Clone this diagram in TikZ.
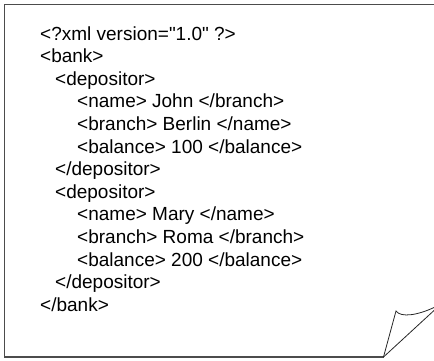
\documentclass[tikz,border=0pt]{standalone}
\usepackage{fontspec}
\setmainfont{Liberation Sans}[Ligatures=TeXOff]
\usepackage{tikz}
\newcommand{\xmlsize}{\fontsize{19}{22.6}\selectfont}
\tikzset{
  sheet/.style  ={draw=black!70, line width=1.5pt},
  crease/.style ={draw=black!85, line width=0.8pt},
  tag/.style    ={anchor=base west, inner sep=0pt, font=\xmlsize},
}

\begin{document}
\begin{tikzpicture}[x=1pt,y=-1pt]
\useasboundingbox (0,0) rectangle (434,360);

% --- the sheet, cut off at the right -------------------------------
\coordinate (tr)   at (434,4.5);
\coordinate (tl)   at (4.5,4.5);
\coordinate (bl)   at (4.5,357);
\coordinate (foot) at (383.5,357);
\coordinate (edge) at (434,310.5);
\coordinate (tip)  at (396,311);
\coordinate (curl) at (434,307.5);
\draw[sheet] (tr) -- (tl) -- (bl) -- (foot);
\draw[crease] (foot) -- (edge);
\draw[crease] (foot) -- (tip) .. controls (401,318) and (418,315) .. (curl);

% --- the document ---------------------------------------------------
\node[tag] (decl)  at (40,40)    {<?xml version="1.0" ?>};
\node[tag] (bank)  at (40,62.6)  {<bank>};
\node[tag] (dep1)  at (55,85.2)  {<depositor>};
\node[tag] (name1) at (77,107.8) {<name> John </branch>};
\node[tag] (br1)   at (77,130.4) {<branch> Berlin </name>};
\node[tag] (bal1)  at (77,153)   {<balance> 100 </balance>};
\node[tag] (end1)  at (55,175.6) {</depositor>};
\node[tag] (dep2)  at (55,198.2) {<depositor>};
\node[tag] (name2) at (77,220.8) {<name> Mary </name>};
\node[tag] (br2)   at (77,243.4) {<branch> Roma </branch>};
\node[tag] (bal2)  at (77,266)   {<balance> 200 </balance>};
\node[tag] (end2)  at (55,288.6) {</depositor>};
\node[tag] (endb)  at (40,311.2) {</bank>};
\end{tikzpicture}
\end{document}
